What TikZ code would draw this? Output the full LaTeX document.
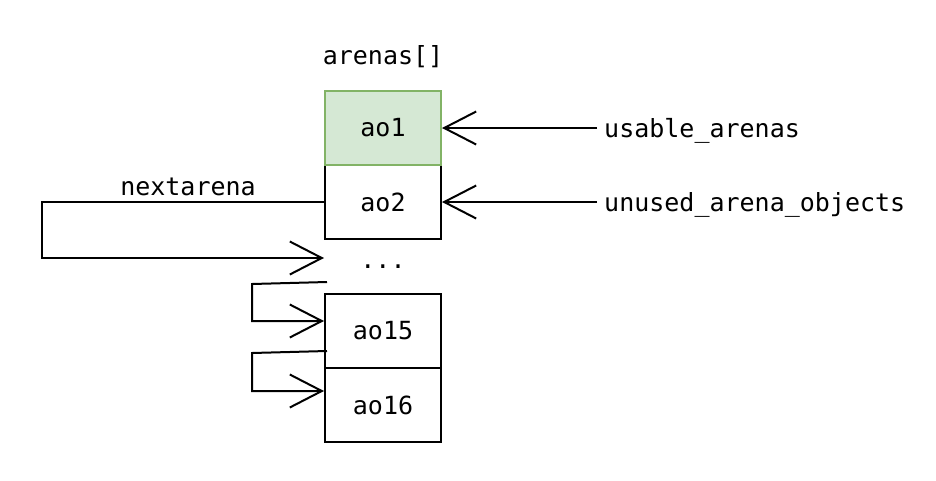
\documentclass[tikz,border=0pt]{standalone}
\usepackage{fontspec}
\setmonofont{DejaVu Sans Mono}
\usetikzlibrary{arrows.meta}
\definecolor{gfill}{HTML}{D5E8D4}
\definecolor{gdraw}{HTML}{82B366}
\begin{document}
\begin{tikzpicture}[x=1pt,y=-1pt,
  every node/.style={font=\ttfamily\fontsize{25}{29}\selectfont},
  cell/.style={draw=black,line width=2pt,minimum width=116pt,minimum height=74pt,inner sep=0pt},
  greencell/.style={cell,fill=gfill,draw=gdraw},
  lbl/.style={inner sep=0pt},
  arr/.style={line width=2pt,-{Straight Barb[length=32pt,width=33pt]}}]
\useasboundingbox (0,0) rectangle (936,480);
\node[lbl] (arenas) at (383,57) {arenas[]};
\node[cell] (ao2) at (383,202) {ao2};
\node[greencell] (ao1) at (383,128) {ao1};
\node[lbl] (dots) at (383,267) {...};
\node[cell] (ao15) at (383,331) {ao15};
\node[cell] (ao16) at (383,405) {ao16};
\node[lbl,anchor=west] (usable) at (604,131) {usable\_arenas};
\node[lbl,anchor=west] (unused) at (604,205) {unused\_arena\_objects};
\node[lbl] (next) at (188,187) {nextarena};
% connectors
\coordinate (uend) at (597,128);
\coordinate (oend) at (597,202);
\draw[arr] (uend) -- (ao1.east);
\draw[arr] (oend) -- (ao2.east);
\coordinate (n1) at (42,202);
\coordinate (n2) at (42,258);
\coordinate (n3) at (324,258);
\draw[arr] (ao2.west) -- (n1) -- (n2) -- (n3);
\coordinate (a1) at (327,282);
\coordinate (a2) at (252,284);
\coordinate (a3) at (252,321);
\draw[arr] (a1) -- (a2) -- (a3) -- ([yshift=10pt]ao15.west);
\coordinate (b1) at (327,351);
\coordinate (b2) at (252,353);
\coordinate (b3) at (252,391);
\draw[arr] (b1) -- (b2) -- (b3) -- ([yshift=14pt]ao16.west);
\end{tikzpicture}
\end{document}
